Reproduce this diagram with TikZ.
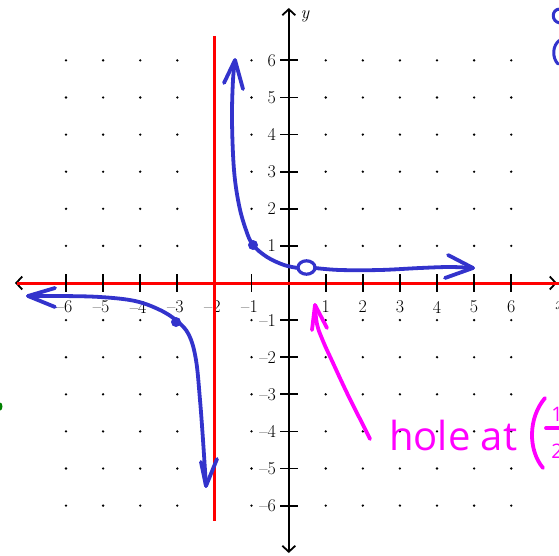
\documentclass[tikz,border=0pt]{standalone}
\usepackage{fontspec}
\newfontfamily\handfont{Open Sans}
\usetikzlibrary{arrows.meta}
\definecolor{pblue}{RGB}{51,51,204}
\definecolor{pred}{RGB}{255,0,0}
\definecolor{pmag}{RGB}{255,0,255}
\definecolor{pgreen}{RGB}{0,128,0}
\tikzset{
  axisline/.style={line width=1.8pt, black},
  axisarrow/.style={line width=1.8pt, black, {Straight Barb[length=6pt,width=13pt]}-{Straight Barb[length=6pt,width=13pt]}},
  tickmark/.style={line width=1.8pt, black},
  asym/.style={pred, line width=3pt},
  curve/.style={pblue, line width=3.8pt, line cap=round, line join=round},
  hand/.style={pmag, line width=3.8pt, line cap=round, line join=round},
  ticklabel/.style={font=\fontsize{18}{18}\selectfont, inner sep=0pt},
  griddot/.style={black}
}
\begin{document}
\begin{tikzpicture}[x=1pt,y=-1pt]
\useasboundingbox (0,0) rectangle (559,556);
\clip (0,0) rectangle (559,556);
% grid dots
\foreach \i in {-6,...,-1,1,2,...,6}
  \foreach \j in {-6,...,-1,1,2,...,6}
    \fill[griddot] ({288.6+37.1*\i},{283-37.1*\j}) circle (1.3);
% axes
\coordinate (xl) at (15,283);
\coordinate (xr) at (557,283);
\coordinate (yt) at (288.8,8);
\coordinate (yb) at (288.8,553);
\draw[axisarrow] (xl) -- (xr);
\draw[axisarrow] (yb) -- (yt);
\node[font=\itshape\fontsize{18}{18}\selectfont, inner sep=0pt] (ylab) at (305,16) {y};
\node[font=\itshape\fontsize{18}{18}\selectfont, inner sep=0pt] (xlab) at (559,306) {x};
% horizontal asymptote (on x-axis)
\coordinate (hal) at (17,283);
\coordinate (har) at (559,283);
\draw[asym] (hal) -- (har);
% ticks and labels
\foreach \i in {1,...,6}{
  \draw[tickmark] ({288.6+37.1*\i},274) -- ({288.6+37.1*\i},292);
  \draw[tickmark] ({288.6-37.1*\i},274) -- ({288.6-37.1*\i},292);
  \draw[tickmark] (280,{283-37.1*\i}) -- (298,{283-37.1*\i});
  \draw[tickmark] (280,{283+37.1*\i}) -- (298,{283+37.1*\i});
  \node[ticklabel] at ({288.6+37.1*\i},307) {\i};
  \node[ticklabel] at ({288.6-37.1*\i-2},307) {–\i};
  \node[ticklabel, anchor=east] at (276,{283-37.1*\i}) {\i};
  \node[ticklabel, anchor=east] at (276,{283+37.1*\i}) {–\i};
}
% vertical asymptote
\coordinate (vat) at (214.5,36);
\coordinate (vab) at (214.5,521);
\draw[asym] (vat) -- (vab);
% right branch
\draw[curve] plot[smooth, tension=0.6] coordinates {(235,61) (233,80) (232,120) (234,170) (239,205) (246,230) (253,245) (267,257) (284,265) (298,268)};
\draw[curve, line width=3.2pt] (306.5,267.5) ellipse [x radius=8.5, y radius=6.7];
\draw[curve] plot[smooth, tension=0.6] coordinates {(315,268) (340,270) (380,270) (420,268) (450,267) (473,268)};
\draw[curve] (224,83) -- (235,60) -- (243,89);
\draw[curve] (448,255) -- (473,268) -- (445,278);
\fill[pblue] (253,245) circle (5);
% left branch
\draw[curve] plot[smooth, tension=0.6] coordinates {(28,296) (60,296) (100,297) (135,301) (160,310) (177,321) (189,335) (196,360) (200,400) (203,440) (206,486)};
\draw[curve] (55,288) -- (28,296) -- (55,307);
\draw[curve] (201,462) -- (206,486) -- (217,459);
\fill[pblue] (176,322) circle (5);
% hole annotation
\draw[hand] plot[smooth, tension=0.7] coordinates {(370,439) (360,419) (347,393) (333,363) (323,341) (317,324) (315,305)};
\draw[hand] (312,330) -- (315,305) -- (327,328);
\node[pmag, anchor=base west, inner sep=0pt, font=\handfont\fontsize{40}{40}\selectfont] (holetext) at (389,450) {hole at};
\draw[hand] (545,398) .. controls (528,418) and (528,450) .. (543,468);
\draw[hand] (546,428) -- (560,428);
\node[pmag, inner sep=0pt, font=\handfont\fontsize{20}{20}\selectfont] (num) at (557,414) {1};
\node[pmag, inner sep=0pt, font=\handfont\fontsize{20}{20}\selectfont] (den) at (557,451) {2};
% partial marks at the edges
\draw[curve, line width=3pt] (560,9) .. controls (551,9) and (551,22) .. (560,23);
\draw[curve, line width=3pt] (560,40) .. controls (552,45) and (552,58) .. (558,64);
\fill[pgreen] (0,406.5) ellipse [x radius=2.5, y radius=4];
\end{tikzpicture}
\end{document}
